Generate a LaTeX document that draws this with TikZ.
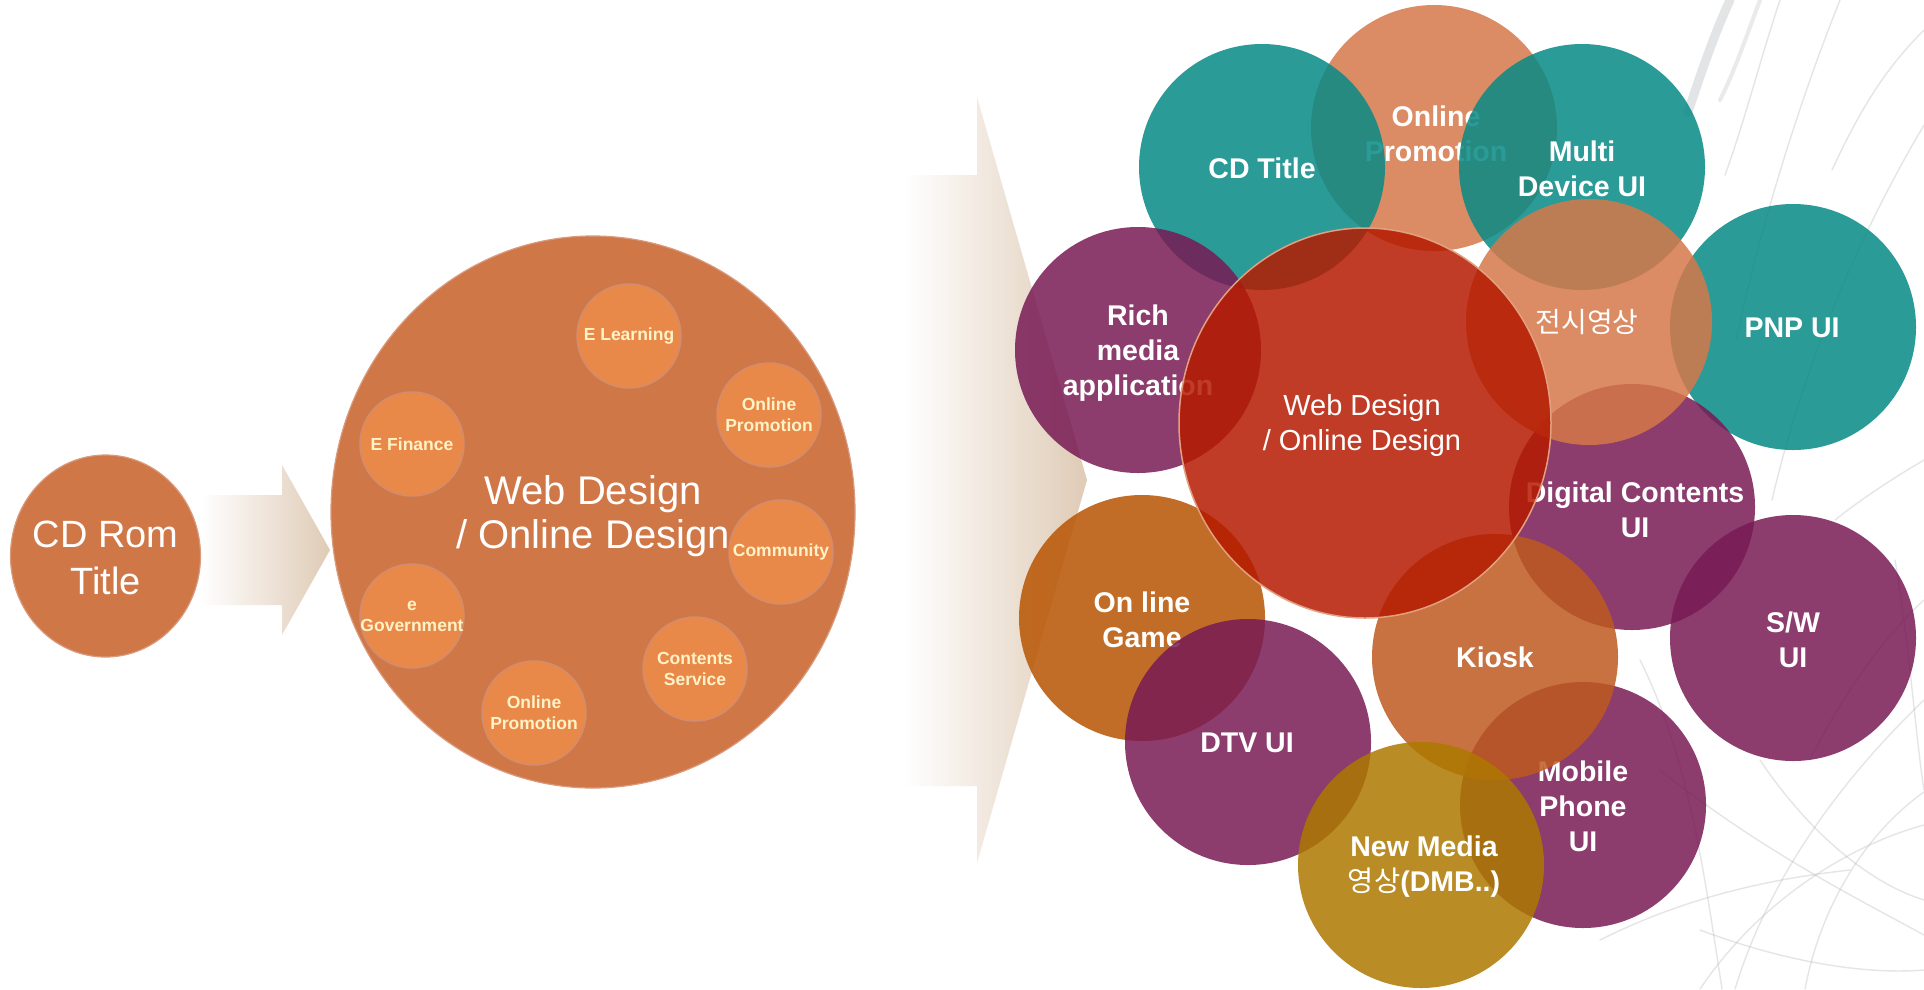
\documentclass[tikz,border=0pt]{standalone}
\usepackage{fontspec}
\setmainfont{Liberation Sans}
\newfontfamily\krfont{Noto Sans CJK KR}
\usetikzlibrary{shapes.geometric}
\definecolor{cdorange}{HTML}{CF7747}
\definecolor{cdedge}{HTML}{DA9A7E}
\definecolor{smallfill}{HTML}{E8894A}
\definecolor{smalledge}{HTML}{D38C6E}
\definecolor{cream}{HTML}{FFF2C6}
\definecolor{arrowbeige}{HTML}{DFCBB6}
\definecolor{cteal}{HTML}{078A86}
\definecolor{csalmon}{HTML}{D67849}
\definecolor{cpurple}{HTML}{781A54}
\definecolor{cred}{HTML}{B51A00}
\definecolor{credge}{HTML}{E3A080}
\definecolor{cgame}{HTML}{B85402}
\definecolor{ckiosk}{HTML}{BE5A1F}
\definecolor{cyellow}{HTML}{AD7800}
\definecolor{swirl}{HTML}{B8BCC0}
\begin{document}
\begin{tikzpicture}[x=1pt,y=-1pt,
  leftcirc/.style={ellipse, inner sep=0pt, fill=cdorange, draw=cdedge, line width=1.2pt},
  smallc/.style={circle, inner sep=0pt, minimum size=104pt, fill=smallfill, draw=smalledge, line width=1.5pt},
  smalltxt/.style={text=cream, align=center, inner sep=0pt, font=\bfseries\fontsize{17.5}{21}\selectfont},
  bub/.style={circle, inner sep=0pt, minimum size=246pt, draw=none, fill opacity=0.85},
  btxt/.style={text=white, align=center, inner sep=0pt, font=\bfseries\fontsize{28.5}{35}\selectfont},
  swirlline/.style={draw=swirl, line cap=round, opacity=0.38, line width=1.4pt}
]
\fill[white] (0,0) rectangle (1924,989);
\useasboundingbox (0,0) rectangle (1924,989);

% background swirls
\draw[swirlline, line width=9pt, opacity=0.4] (1730,0) .. controls (1714,35) and (1702,70) .. (1688,112);
\draw[swirlline, line width=4pt, opacity=0.3] (1760,0) .. controls (1745,40) and (1735,70) .. (1720,100);
\draw[swirlline] (1840,0) .. controls (1800,100) and (1762,220) .. (1736,340);
\draw[swirlline] (1924,125) .. controls (1850,250) and (1800,380) .. (1772,500);
\draw[swirlline] (1924,30) .. controls (1884,70) and (1860,110) .. (1832,170);
\draw[swirlline] (1780,0) .. controls (1760,60) and (1745,120) .. (1725,175);
\draw[swirlline] (1924,460) .. controls (1890,480) and (1860,500) .. (1835,520);
\draw[swirlline] (1640,660) .. controls (1690,760) and (1705,880) .. (1722,989);
\draw[swirlline] (1924,700) .. controls (1820,800) and (1762,900) .. (1735,989);
\draw[swirlline] (1660,770) .. controls (1760,850) and (1860,900) .. (1924,935);
\draw[swirlline] (1700,989) .. controls (1760,900) and (1850,845) .. (1924,825);
\draw[swirlline] (1805,989) .. controls (1822,900) and (1870,830) .. (1924,792);
\draw[swirlline] (1895,560) .. controls (1910,650) and (1916,740) .. (1924,790);
\draw[swirlline] (1700,930) .. controls (1780,960) and (1860,975) .. (1924,970);
\draw[swirlline] (1760,760) .. controls (1800,820) and (1860,880) .. (1924,900);
\draw[swirlline] (1600,940) .. controls (1680,900) and (1760,880) .. (1850,870);
\draw[swirlline] (1924,600) .. controls (1880,640) and (1840,700) .. (1810,760);

% arrows
\shade[left color=white, right color=arrowbeige]
  (200,495) -- (282,495) -- (282,465) -- (330,550) -- (282,635) -- (282,605) -- (200,605) -- cycle;
\shade[left color=white, right color=arrowbeige]
  (905,175) -- (977,175) -- (977,97) -- (1087,480) -- (977,863) -- (977,786) -- (905,786) -- cycle;

% left part
\node[leftcirc, minimum width=190pt, minimum height=202pt] (cdrom) at (105.5,556) {};
\node[text=white, align=center, inner sep=0pt, font=\fontsize{38}{47}\selectfont] (cdromt) at (105.5,558) {CD Rom\\Title};

\node[leftcirc, minimum width=524pt, minimum height=552pt] (web) at (593,512) {};
\node[text=white, align=center, inner sep=0pt, font=\fontsize{40}{44}\selectfont] (webt) at (593,516) {Web Design\\/ Online Design};

\node[smallc] (s1) at (629,336) {};
\node[smalltxt] (s1t) at (s1) {E Learning};
\node[smallc] (s2) at (769,415) {};
\node[smalltxt] (s2t) at (s2) {Online\\Promotion};
\node[smallc] (s3) at (781,552) {};
\node[smalltxt] (s3t) at (s3) {Community};
\node[smallc] (s4) at (695,669) {};
\node[smalltxt] (s4t) at (s4) {Contents\\Service};
\node[smallc] (s5) at (534,713) {};
\node[smalltxt] (s5t) at (s5) {Online\\Promotion};
\node[smallc] (s6) at (412,616) {};
\node[smalltxt] (s6t) at (s6) {e\\Government};
\node[smallc] (s7) at (412,444) {};
\node[smalltxt] (s7t) at (s7) {E Finance};

% right cluster
\node[bub, fill=csalmon] (opromo) at (1434,128) {};
\node[btxt] (opromot) at (1436,134) {Online\\Promotion};
\node[bub, fill=cteal] (cdt) at (1262,167) {};
\node[btxt] (cdtt) at (1262,168) {CD Title};
\node[bub, fill=cteal] (multi) at (1582,167) {};
\node[btxt] (multit) at (1582,169) {Multi\\Device UI};
\node[bub, fill=cteal] (pnp) at (1793,327) {};
\node[btxt] (pnpt) at (1792,328) {PNP UI};
\node[bub, fill=cpurple] (dig) at (1632,507) {};
\node[btxt] (digt) at (1635,510) {Digital Contents\\UI};
\node[bub, fill=csalmon] (jeon) at (1589,322) {};
\node[text=white, inner sep=0pt, font=\krfont\fontsize{28}{35}\selectfont] (jeont) at (1587,322) {전시영상};
\node[bub, fill=cpurple] (rich) at (1138,350) {};
\node[btxt] (richt) at (1138,353) {Rich\\media\\application};
\node[bub, fill=cpurple] (sw) at (1793,638) {};
\node[btxt] (swt) at (1793,640) {S/W\\UI};
\node[bub, fill=cgame] (game) at (1142,618) {};
\node[btxt] (gamet) at (1142,620) {On line\\Game};
\node[bub, fill=cpurple] (dtv) at (1248,742) {};
\node[btxt] (dtvt) at (1247,743) {DTV UI};
\node[bub, fill=cpurple] (mobile) at (1583,805) {};
\node[btxt] (mobilet) at (1583,806) {Mobile\\Phone\\UI};
\node[bub, fill=ckiosk] (kiosk) at (1495,657) {};
\node[btxt] (kioskt) at (1495,657) {Kiosk};
\node[bub, fill=cyellow] (newm) at (1421,865) {};
\node[btxt] (newmt) at (1424,867) {New Media\\{\krfont\mdseries 영상}(DMB..)};
\node[ellipse, inner sep=0pt, minimum width=372pt, minimum height=390pt, fill=cred, fill opacity=0.85, draw=credge, line width=1.5pt] (red) at (1365,423) {};
\node[text=white, align=center, inner sep=0pt, font=\fontsize{29}{35}\selectfont] (redt) at (1362,425) {Web Design\\/ Online Design};
\end{tikzpicture}
\end{document}
